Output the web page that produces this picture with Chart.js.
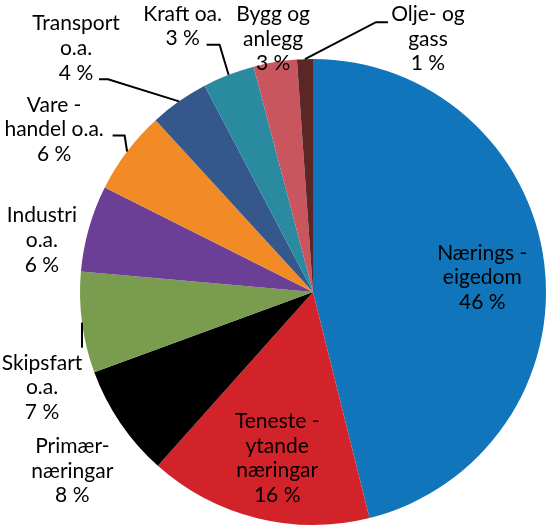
<!DOCTYPE html>
<html>
<head>
<meta charset="utf-8">
<script src="https://cdn.jsdelivr.net/npm/chart.js@4/dist/chart.umd.min.js"></script>
<style>
  html, body { margin: 0; padding: 0; background: #fff; }
  #wrap { position: relative; width: 550px; height: 527px; }
</style>
</head>
<body>
<div id="wrap"><canvas id="chart_one"></canvas></div>
<script>
// share of total (clockwise from 12 o'clock)
var categories = ['Næringseigedom', 'Tenesteytande næringar', 'Primærnæringar', 'Skipsfart o.a.',
                  'Industri o.a.', 'Varehandel o.a.', 'Transport o.a.', 'Kraft oa.', 'Bygg og anlegg', 'Olje- og gass'];
var shares = [46.1, 15.5, 7.8, 7.0, 6.0, 5.8, 4.1, 3.6, 3.0, 1.1];
var percentLabels = ['46 %', '16 %', '8 %', '7 %', '6 %', '6 %', '4 %', '3 %', '3 %', '1 %'];
// label text, one entry per line (last line is the percent)
var labelLines = [
    ['Nærings -', 'eigedom'],
    ['Teneste -', 'ytande', 'næringar'],
    ['Primær-', 'næringar'],
    ['Skipsfart', 'o.a.'],
    ['Industri', 'o.a.'],
    ['Vare -', 'handel o.a.'],
    ['Transport', 'o.a.'],
    ['Kraft oa.'],
    ['Bygg og', 'anlegg'],
    ['Olje- og', 'gass']
];
var sliceColors = ['#1175bb', '#d2232a', '#000000', '#7a9c4f', '#6c3f96',
                   '#f28a25', '#34578c', '#2a8aa0', '#c9565f', '#5c2626'];

// label anchor (first baseline, centre) as offset from the slice's outer mid point
var labelOffset = [[-62, -4], [20, -90], [-48, 30], [-40, 47], [-47, -6],
                   [-73, -40], [-103, -71], [-46, -54], [-2, -41], [123, -38]];
// leader lines, offsets from the same mid point
var leaders = [null, null, null, [[0, 0], [0, 25]], null,
               [[0, 0], [-2.5, -16], [-14.5, -16]],
               [[0, 0], [-71, -22], [-80, -22]],
               [[0, 0], [-9, -30], [-22, -30]],
               null,
               [[0, 0], [71, -37], [83, -37]]];

var lineHeight = 24.6;

var labelPlugin = {
    id: 'sliceLabels',
    afterDatasetsDraw: function (chart) {
        var ctx = chart.ctx;
        var arcs = chart.getDatasetMeta(0).data;
        ctx.save();
        arcs.forEach(function (arc, i) {
            var p = arc.getProps(['x', 'y', 'startAngle', 'endAngle', 'outerRadius'], true);
            var mid = (p.startAngle + p.endAngle) / 2;
            var ex = p.x + p.outerRadius * Math.cos(mid);
            var ey = p.y + p.outerRadius * Math.sin(mid);

            if (leaders[i]) {
                ctx.beginPath();
                ctx.strokeStyle = '#000';
                ctx.lineWidth = 2;
                leaders[i].forEach(function (pt, k) {
                    if (k === 0) ctx.moveTo(ex + pt[0], ey + pt[1]);
                    else ctx.lineTo(ex + pt[0], ey + pt[1]);
                });
                ctx.stroke();
            }

            var lines = labelLines[i].concat([percentLabels[i]]);
            var lx = ex + labelOffset[i][0];
            var ly = ey + labelOffset[i][1];
            ctx.fillStyle = '#000';
            ctx.font = '21px Lato';
            ctx.textAlign = 'center';
            ctx.textBaseline = 'alphabetic';
            lines.forEach(function (t, k) {
                ctx.fillText(t, lx, ly + k * lineHeight);
            });
        });
        ctx.restore();
    }
};

var ctx = document.getElementById('chart_one').getContext('2d');
var chart = new Chart(ctx, {
    type: 'pie',
    data: {
        labels: categories,
        datasets: [{
            data: shares,
            backgroundColor: sliceColors,
            borderWidth: 0
        }]
    },
    options: {
        responsive: true,
        maintainAspectRatio: false,
        animation: false,
        layout: { padding: { left: 80, right: 4, top: 59, bottom: 2 } },
        plugins: {
            legend: { display: false },
            tooltip: { enabled: false }
        }
    },
    plugins: [labelPlugin]
});
</script>
</body>
</html>
